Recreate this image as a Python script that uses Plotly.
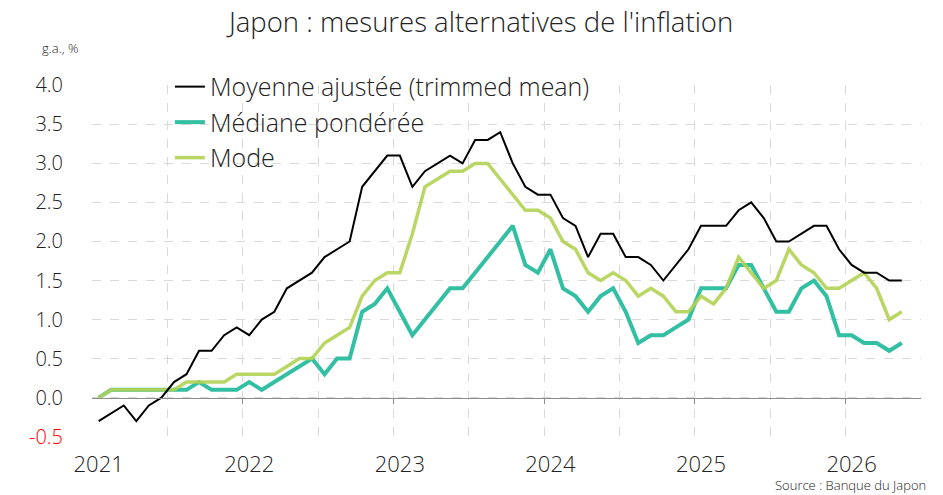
import plotly.graph_objects as go

# ---- data ----
months = [f"{y}-{m:02d}" for y in range(2021, 2027) for m in range(1, 13)][:65]

trimmed_mean = [-0.3, -0.2, -0.1, -0.3, -0.1, 0.0, 0.2, 0.3, 0.6, 0.6, 0.8, 0.9,
                0.8, 1.0, 1.1, 1.4, 1.5, 1.6, 1.8, 1.9, 2.0, 2.7, 2.9, 3.1,
                3.1, 2.7, 2.9, 3.0, 3.1, 3.0, 3.3, 3.3, 3.4, 3.0, 2.7, 2.6,
                2.6, 2.3, 2.2, 1.8, 2.1, 2.1, 1.8, 1.8, 1.7, 1.5, 1.7, 1.9,
                2.2, 2.2, 2.2, 2.4, 2.5, 2.3, 2.0, 2.0, 2.1, 2.2, 2.2, 1.9,
                1.7, 1.6, 1.6, 1.5, 1.5]

weighted_median = [0.0, 0.1, 0.1, 0.1, 0.1, 0.1, 0.1, 0.1, 0.2, 0.1, 0.1, 0.1,
                   0.2, 0.1, 0.2, 0.3, 0.4, 0.5, 0.3, 0.5, 0.5, 1.1, 1.2, 1.4,
                   1.1, 0.8, 1.0, 1.2, 1.4, 1.4, 1.6, 1.8, 2.0, 2.2, 1.7, 1.6,
                   1.9, 1.4, 1.3, 1.1, 1.3, 1.4, 1.1, 0.7, 0.8, 0.8, 0.9, 1.0,
                   1.4, 1.4, 1.4, 1.7, 1.7, 1.4, 1.1, 1.1, 1.4, 1.5, 1.3, 0.8,
                   0.8, 0.7, 0.7, 0.6, 0.7]

mode = [0.0, 0.1, 0.1, 0.1, 0.1, 0.1, 0.1, 0.2, 0.2, 0.2, 0.2, 0.3,
        0.3, 0.3, 0.3, 0.4, 0.5, 0.5, 0.7, 0.8, 0.9, 1.3, 1.5, 1.6,
        1.6, 2.1, 2.7, 2.8, 2.9, 2.9, 3.0, 3.0, 2.8, 2.6, 2.4, 2.4,
        2.3, 2.0, 1.9, 1.6, 1.5, 1.6, 1.5, 1.3, 1.4, 1.3, 1.1, 1.1,
        1.3, 1.2, 1.4, 1.8, 1.6, 1.4, 1.5, 1.9, 1.7, 1.6, 1.4, 1.4,
        1.5, 1.6, 1.4, 1.0, 1.1]

year_labels = ["2021", "2022", "2023", "2024", "2025", "2026"]
y_ticks = [-0.5, 0.0, 0.5, 1.0, 1.5, 2.0, 2.5, 3.0, 3.5, 4.0]

names = ["Moyenne ajustée (trimmed mean)", "Médiane pondérée", "Mode"]

# ---- layout helpers ----
x = list(range(len(months)))
n_cat = 66
year_pos = [months.index(f"{yl}-01") for yl in year_labels]
year_bounds = [p - 0.5 for p in year_pos[1:]]
ymin, ymax = -0.5, 4.0
eps_x, eps_y = 0.03, 0.004
y_text = [f'<span style="color:#ff0000">{v:.1f}</span>' if v < 0 else f"{v:.1f}" for v in y_ticks]

FONT = "Open Sans"
TEAL = "#33bfa2"
LIME = "#b3d254"
TXT = "#222222"

fig = go.Figure()
fig.add_trace(go.Scatter(x=x, y=weighted_median, name=names[1], mode="lines",
                         line=dict(color=TEAL, width=4), legendrank=2, legendgroup="b"))
fig.add_trace(go.Scatter(x=x, y=mode, name=names[2], mode="lines",
                         line=dict(color=LIME, width=3.5), opacity=0.9, legendrank=3, legendgroup="c"))
fig.add_trace(go.Scatter(x=x, y=trimmed_mean, name=names[0], mode="lines", xaxis="x2",
                         line=dict(color="#000000", width=2), legendrank=1, legendgroup="a"))

fig.update_layout(
    width=935, height=487,
    margin=dict(l=84, r=22, t=77, b=58, autoexpand=False),
    paper_bgcolor="white", plot_bgcolor="white",
    font=dict(family=FONT, color=TXT, weight=300),
    title=dict(text="Japon : mesures alternatives de l'inflation",
               x=0.506, xref="container", xanchor="center",
               y=0.99, yref="container", yanchor="top",
               font=dict(size=27.5, family=FONT, weight=300, color=TXT)),
    xaxis=dict(range=[-0.5 - eps_x, n_cat - 0.5 + eps_x], tickmode="array", tickvals=year_pos,
               ticktext=year_labels,
               showgrid=False, zeroline=False, showline=False, ticks="",
               tickfont=dict(size=22, family=FONT, weight=300, color=TXT), ticklabelstandoff=12,
               minor=dict(tickmode="linear", tick0=-0.5, dtick=6, showgrid=True,
                          gridcolor="#d9d9d9", griddash="dash", gridwidth=1, ticks="")),
    xaxis2=dict(matches="x", overlaying="x", anchor="free",
                position=(0 - (ymin - eps_y)) / ((ymax + eps_y) - (ymin - eps_y)),
                tickmode="array", tickvals=year_bounds, showticklabels=False,
                ticks="outside", ticklen=5, tickcolor="#8c8c8c", tickwidth=1,
                showline=True, linecolor="#8c8c8c", linewidth=1.2,
                showgrid=False, zeroline=False),
    yaxis=dict(range=[ymin - eps_y, ymax + eps_y], tickmode="array", tickvals=y_ticks, ticktext=y_text,
               showgrid=True, gridcolor="#d9d9d9", griddash="dash", gridwidth=1,
               zeroline=False, showline=False, ticks="",
               tickfont=dict(size=20, family=FONT, weight=300, color=TXT), ticklabelstandoff=28),
    legend=dict(x=0.094, xanchor="left", y=1.06, yanchor="top",
                bgcolor="rgba(0,0,0,0)", traceorder="grouped", tracegroupgap=0,
                font=dict(size=25, family=FONT, weight=300, color=TXT)),
    showlegend=True,
)

fig.add_annotation(text="g.a., %", xref="paper", yref="paper", x=-0.063, y=1.105,
                   xanchor="left", yanchor="middle", showarrow=False,
                   font=dict(size=13, family=FONT, weight=300, color=TXT))
fig.add_annotation(text="Source : Banque du Japon", xref="paper", yref="paper", x=1.0085, y=-0.137,
                   xanchor="right", yanchor="middle", showarrow=False,
                   font=dict(size=13, family=FONT, weight=300, color=TXT))

fig.write_html("out.html")
